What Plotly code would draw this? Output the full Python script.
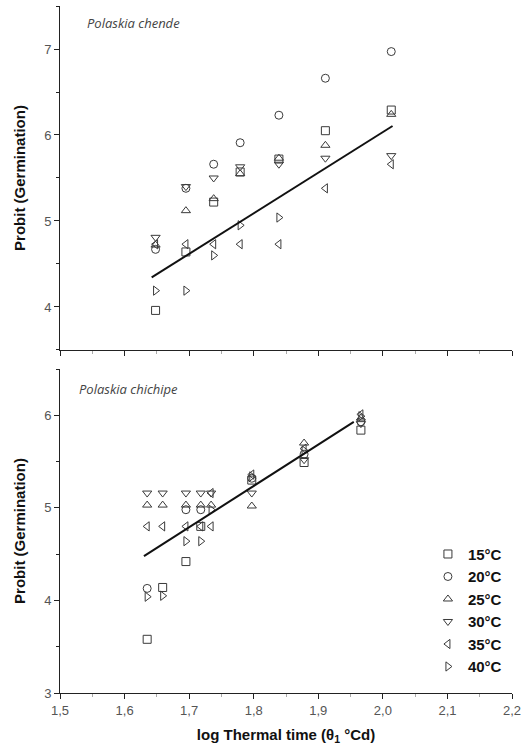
import numpy as np
import plotly.graph_objects as go

# ---- Polaskia chende (upper panel) ----
chende_x = [1.648, 1.695, 1.738, 1.779, 1.839, 1.911, 2.013]
chende_15 = [3.96, 4.64, 5.22, 5.57, 5.72, 6.05, 6.29]
chende_20 = [4.67, 5.38, 5.66, 5.91, 6.23, 6.66, 6.97]
chende_25 = [4.72, 5.12, 5.26, 5.55, 5.73, 5.88, 6.24]
chende_30 = [4.81, 5.40, 5.50, 5.63, 5.66, 5.73, 5.76]
chende_35 = [4.73, 4.73, 4.73, 4.73, 4.73, 5.38, 5.66]
chende_40 = [4.19, 4.19, 4.60, 4.95, 5.04]
chende_fit_x = [1.642, 2.015]
chende_fit_coef = (4.721, -3.408)  # slope, intercept

# ---- Polaskia chichipe (lower panel) ----
chichipe_x15 = [1.635, 1.659, 1.695, 1.718, 1.797, 1.878, 1.966]
chichipe_15 = [3.58, 4.14, 4.42, 4.80, 5.30, 5.49, 5.84]
chichipe_x20 = [1.635, 1.695, 1.718, 1.797, 1.878, 1.966]
chichipe_20 = [4.13, 4.98, 4.98, 5.32, 5.58, 5.93]
chichipe_x25 = [1.635, 1.659, 1.695, 1.718, 1.734, 1.797, 1.878, 1.966]
chichipe_25 = [5.03, 5.03, 5.03, 5.03, 5.03, 5.02, 5.70, 5.97]
chichipe_x30 = [1.635, 1.659, 1.695, 1.718, 1.734, 1.797, 1.878, 1.966]
chichipe_30 = [5.16, 5.16, 5.16, 5.16, 5.16, 5.16, 5.52, 5.91]
chichipe_x35 = [1.635, 1.659, 1.695, 1.718, 1.734, 1.734, 1.797, 1.878, 1.966]
chichipe_35 = [4.80, 4.80, 4.80, 4.80, 4.80, 5.16, 5.36, 5.64, 6.01]
chichipe_x40 = [1.635, 1.659, 1.695, 1.718, 1.734, 1.797, 1.878, 1.966]
chichipe_40 = [4.04, 4.05, 4.64, 4.64, 4.98, 5.34, 5.62, 5.99]
chichipe_fit_x = [1.630, 1.955]
chichipe_fit_coef = (4.462, -2.795)

labels = ["15°C", "20°C", "25°C", "30°C", "35°C", "40°C"]
symbols = ["square-open", "circle-open", "triangle-up-open",
           "triangle-down-open", "triangle-left-open", "triangle-right-open"]

MARK = "#3a3a3a"
fig = go.Figure()

top_series = [(chende_x, chende_15), (chende_x, chende_20), (chende_x, chende_25),
              (chende_x, chende_30), (chende_x, chende_35), (chende_x[:5], chende_40)]
bot_series = [(chichipe_x15, chichipe_15), (chichipe_x20, chichipe_20),
              (chichipe_x25, chichipe_25), (chichipe_x30, chichipe_30),
              (chichipe_x35, chichipe_35), (chichipe_x40, chichipe_40)]

for (x, y), sym in zip(top_series, symbols):
    fig.add_trace(go.Scatter(x=x, y=y, mode="markers", xaxis="x2", yaxis="y2",
                             showlegend=False,
                             marker=dict(symbol=sym, size=8, color=MARK,
                                         line=dict(width=1, color=MARK))))

for (x, y), sym, lab in zip(bot_series, symbols, labels):
    fig.add_trace(go.Scatter(x=x, y=y, mode="markers", xaxis="x", yaxis="y",
                             name=lab,
                             marker=dict(symbol=sym, size=8, color=MARK,
                                         line=dict(width=1, color=MARK))))

# regression lines
fx = np.array(chende_fit_x)
fig.add_trace(go.Scatter(x=fx, y=chende_fit_coef[0] * fx + chende_fit_coef[1],
                         mode="lines", xaxis="x2", yaxis="y2", showlegend=False,
                         line=dict(color="#111111", width=2)))
fx = np.array(chichipe_fit_x)
fig.add_trace(go.Scatter(x=fx, y=chichipe_fit_coef[0] * fx + chichipe_fit_coef[1],
                         mode="lines", xaxis="x", yaxis="y", showlegend=False,
                         line=dict(color="#111111", width=2)))

tickfont = dict(family="Liberation Sans, Arial", size=13, color="#555555")
axis_common = dict(showline=True, linecolor="#222222", linewidth=1,
                   ticks="outside", ticklen=5, tickcolor="#222222",
                   showgrid=False, zeroline=False, tickfont=tickfont)
xcommon = dict(axis_common, range=[1.5, 2.2], dtick=0.1, tick0=1.5,
               tickformat=".1f",
               minor=dict(ticks="outside", ticklen=3, tickcolor="#aaaaaa", dtick=0.05))

title_font = dict(family="Liberation Sans, Arial", size=15, color="#111111")

fig.update_layout(
    width=527, height=755,
    margin=dict(l=60, r=15, t=6, b=62),
    paper_bgcolor="white", plot_bgcolor="white",
    separators=", ",
    xaxis=dict(xcommon, anchor="y",
               title=dict(text="<b>log Thermal time (θ<sub>1</sub> °Cd)</b>",
                          font=title_font, standoff=12)),
    yaxis=dict(axis_common, domain=[0, 0.4716], range=[3, 6.5], dtick=1, anchor="x",
               minor=dict(ticks="outside", ticklen=3, tickcolor="#222222", dtick=0.5),
               title=dict(text="<b>Probit (Germination)</b>", font=title_font,
                          standoff=14)),
    xaxis2=dict(xcommon, anchor="y2", showticklabels=False),
    yaxis2=dict(axis_common, domain=[0.4993, 1], range=[3.5, 7.5], dtick=1,
                anchor="x2",
                minor=dict(ticks="outside", ticklen=3, tickcolor="#222222", dtick=0.5),
                title=dict(text="<b>Probit (Germination)</b>", font=title_font,
                           standoff=14)),
    legend=dict(x=0.814, y=0.226, xanchor="left", yanchor="top",
                bgcolor="rgba(0,0,0,0)", tracegroupgap=0, itemwidth=30,
                font=dict(family="Liberation Sans, Arial", size=15, color="#111111",
                          weight="bold")),
    annotations=[
        dict(text="<i>Polaskia chende</i>", xref="paper", yref="paper",
             x=0.055, y=0.975, xanchor="left", yanchor="middle", showarrow=False,
             font=dict(family="Open Sans", size=13, color="#444444")),
        dict(text="<i>Polaskia chichipe</i>", xref="paper", yref="paper",
             x=0.038, y=0.443, xanchor="left", yanchor="middle", showarrow=False,
             font=dict(family="Open Sans", size=13, color="#444444")),
    ],
)

fig.write_html("out.html")
